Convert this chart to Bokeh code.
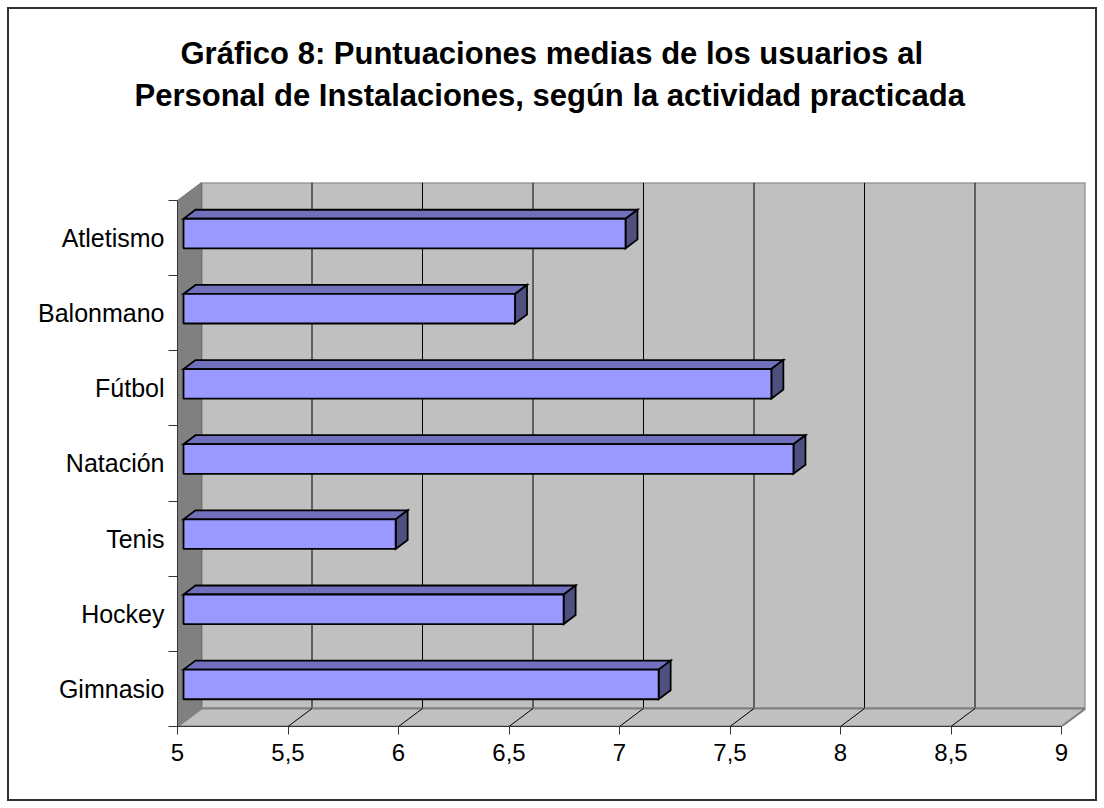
from bokeh.plotting import figure
from bokeh.models import FixedTicker, Title, Range1d
from bokeh.embed import file_html
from bokeh.resources import INLINE

# ---------------- data ----------------
categories = ["Atletismo", "Balonmano", "Fútbol", "Natación", "Tenis", "Hockey", "Gimnasio"]
scores = [7.0, 6.5, 7.66, 7.76, 5.96, 6.72, 7.15]
x_ticks = [5, 5.5, 6, 6.5, 7, 7.5, 8, 8.5, 9]
x_tick_labels = ["5", "5,5", "6", "6,5", "7", "7,5", "8", "8,5", "9"]
title_lines = ["Gráfico 8: Puntuaciones medias de los usuarios al",
               "Personal de Instalaciones, según la actividad practicada"]

# ---------------- layout / style ----------------
FONT = "Liberation Sans"
W, H = 1104, 808
FRAME_L, FRAME_T = 177, 182
PX_X = 221.0          # pixels per x unit on front plane
PX_Y = 75.143         # pixels per category on front plane
DEPTH_PX = (24, 18)   # 3D depth offset in pixels
xmin, xmax = x_ticks[0], x_ticks[-1]
n = len(categories)
ylo, yhi = -0.5, n - 0.5
DXu = DEPTH_PX[0] / PX_X
DYu = DEPTH_PX[1] / PX_Y
frame_w = int(round((xmax - xmin) * PX_X + DEPTH_PX[0]))
frame_h = int(round((yhi - ylo) * PX_Y + DEPTH_PX[1]))

p = figure(width=W, height=H, output_backend="svg", toolbar_location=None,
           x_range=Range1d(xmin, xmax + DXu), y_range=Range1d(ylo, yhi + DYu),
           min_border_left=FRAME_L, min_border_top=FRAME_T,
           min_border_right=W - FRAME_L - frame_w, min_border_bottom=H - FRAME_T - frame_h,
           background_fill_color="white", border_fill_color=None)
p.outline_line_color = None
p.grid.visible = False
# chart-area border drawn by the page behind the (transparent) canvas border
p.styles = {"background-color": "white",
            "box-shadow": "inset 0 0 0 7px white, inset 0 0 0 9px #333333"}

# ---------------- 3D walls ----------------
p.quad(left=[xmin + DXu], right=[xmax + DXu], bottom=[ylo + DYu], top=[yhi + DYu],
       fill_color="#C0C0C0", line_color="#808080", line_width=2)
gx = x_ticks[1:-1]
p.segment(x0=[g + DXu for g in gx], y0=[ylo + DYu] * len(gx),
          x1=[g + DXu for g in gx], y1=[yhi + DYu] * len(gx),
          line_color="#000000", line_width=1)
p.patch(x=[xmin, xmin, xmin + DXu, xmin + DXu], y=[ylo, yhi, yhi + DYu, ylo + DYu],
        fill_color="#808080", line_color="#707070", line_width=1)
p.patch(x=[xmin, xmax, xmax + DXu, xmin + DXu], y=[ylo, ylo, ylo + DYu, ylo + DYu],
        fill_color="#C0C0C0", line_color="#808080", line_width=2)
p.segment(x0=gx, y0=[ylo] * len(gx), x1=[g + DXu for g in gx], y1=[ylo + DYu] * len(gx),
          line_color="#000000", line_width=1)

# ---------------- bars ----------------
f0, f1 = 0.25, 0.75
half = 0.197
ox0, oy0 = f0 * DXu, f0 * DYu
ddx, ddy = (f1 - f0) * DXu, (f1 - f0) * DYu
ypos = [n - 1 - i for i in range(n)]
lefts = [xmin + ox0] * n
rights = [v + ox0 for v in scores]
bottoms = [y - half + oy0 for y in ypos]
tops = [y + half + oy0 for y in ypos]

top_xs = [[l, r, r + ddx, l + ddx] for l, r in zip(lefts, rights)]
top_ys = [[t, t, t + ddy, t + ddy] for t in tops]
side_xs = [[r, r, r + ddx, r + ddx] for r in rights]
side_ys = [[b, t, t + ddy, b + ddy] for b, t in zip(bottoms, tops)]

p.patches(xs=top_xs, ys=top_ys, fill_color="#7070BC", line_color="black", line_width=1.8,
          line_join="miter")
p.patches(xs=side_xs, ys=side_ys, fill_color="#4F4F80", line_color="black", line_width=1.8,
          line_join="miter")
p.quad(left=lefts, right=rights, bottom=bottoms, top=tops,
       fill_color="#9999FF", line_color="black", line_width=1.8)

# ---------------- axes ----------------
xa = p.xaxis[0]
xa.ticker = FixedTicker(ticks=x_ticks)
xa.major_label_overrides = {t: lab for t, lab in zip(x_ticks, x_tick_labels)}
xa.bounds = (xmin, xmax)
xa.major_tick_in = 0
xa.major_tick_out = 8
xa.minor_tick_line_color = None
xa.axis_line_color = "#333333"
xa.major_tick_line_color = "#333333"
xa.major_label_text_font = FONT
xa.major_label_text_font_size = "24px"
xa.major_label_text_color = "black"
xa.major_label_standoff = 9

ya = p.yaxis[0]
ya.ticker = FixedTicker(ticks=ypos, minor_ticks=[ylo + k for k in range(n + 1)])
ya.major_label_overrides = {y: c for y, c in zip(ypos, categories)}
ya.bounds = (ylo, yhi)
ya.major_tick_line_color = None
ya.major_tick_in = 0
ya.major_tick_out = 0
ya.minor_tick_in = 0
ya.minor_tick_out = 9
ya.minor_tick_line_color = "#333333"
ya.axis_line_color = "#333333"
ya.major_label_text_font = FONT
ya.major_label_text_font_size = "25px"
ya.major_label_text_color = "black"
ya.major_label_standoff = 4

# ---------------- title (panels stack outward from the plot) ----------------
# small spacer panel between plot and title
p.add_layout(Title(text=" ", text_font_size="1px", standoff=67), "above")
title_style = dict(text_font=FONT, text_font_size="31px", text_font_style="bold",
                   text_color="black", align="left")
p.add_layout(Title(text=title_lines[1], offset=-43, standoff=0, **title_style), "above")
p.add_layout(Title(text=title_lines[0], offset=3, standoff=9, **title_style), "above")

open("out.html", "w").write(file_html(p, INLINE))
